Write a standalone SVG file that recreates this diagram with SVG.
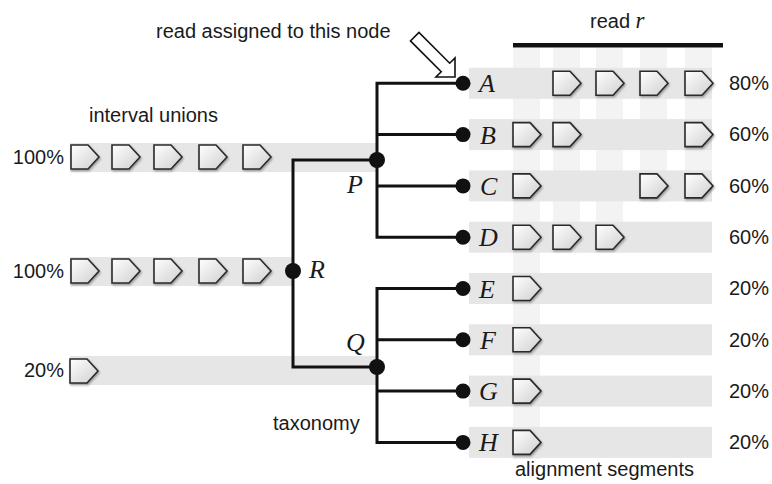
<svg xmlns="http://www.w3.org/2000/svg" xmlns:xlink="http://www.w3.org/1999/xlink" width="772" height="484" viewBox="0 0 772 484">
<defs>
<style>
.t{font-family:"Liberation Sans",Arial,sans-serif;font-size:20px;fill:#1a1a1a}
.n{font-family:"Liberation Serif","Times New Roman",serif;font-style:italic;font-size:26px;fill:#1a1a1a}
.band{fill:#e6e6e6}
.strip{fill:#f3f3f3}
.edge{fill:none;stroke:#111;stroke-width:3;stroke-linejoin:miter}
.dot{fill:#111}
</style>
<linearGradient id="pg" x1="0" y1="0" x2="1" y2="1">
<stop offset="0" stop-color="#ffffff"/>
<stop offset="1" stop-color="#cfcfcf"/>
</linearGradient>
<filter id="sh" x="-20%" y="-20%" width="150%" height="150%">
<feDropShadow dx="1" dy="1.5" stdDeviation="1" flood-color="#000" flood-opacity="0.35"/>
</filter>
<path id="pent" d="M0,0 H17 L28,12 L17,24 H0 Z" fill="url(#pg)" stroke="#2a2a2a" stroke-width="1.6" stroke-linejoin="miter" filter="url(#sh)"/>
</defs>
<rect width="772" height="484" fill="#fff"/>

<g id="background">
<rect class="strip" x="513" y="48" width="27" height="411"/>
<rect class="strip" x="553" y="48" width="27" height="174"/>
<rect class="strip" x="596" y="48" width="27" height="174"/>
<rect class="strip" x="640" y="48" width="27" height="154"/>
<rect class="strip" x="685" y="48" width="27" height="154"/>
<rect class="band" x="469" y="67.8" width="243" height="31"/>
<rect class="band" x="469" y="119.1" width="243" height="31"/>
<rect class="band" x="469" y="170.4" width="243" height="31"/>
<rect class="band" x="469" y="221.7" width="243" height="31"/>
<rect class="band" x="469" y="273" width="243" height="31"/>
<rect class="band" x="469" y="324.3" width="243" height="31"/>
<rect class="band" x="469" y="375.6" width="243" height="31"/>
<rect class="band" x="469" y="426.9" width="243" height="31"/>
<rect class="band" x="70" y="143" width="307" height="29"/>
<rect class="band" x="70" y="257" width="223" height="29"/>
<rect class="band" x="70" y="356" width="307" height="29"/>
<rect x="513" y="43" width="210" height="4.5" fill="#111"/>
</g>

<g id="connectors">
<polyline class="edge" points="377,160 293,160 293,367 377,367"/>
<polyline class="edge" points="463,83.3 377,83.3 377,237.2 463,237.2"/>
<line class="edge" x1="377" y1="134.6" x2="463" y2="134.6"/>
<line class="edge" x1="377" y1="185.9" x2="463" y2="185.9"/>
<polyline class="edge" points="463,288.5 377,288.5 377,442.4 463,442.4"/>
<line class="edge" x1="377" y1="339.8" x2="463" y2="339.8"/>
<line class="edge" x1="377" y1="391.1" x2="463" y2="391.1"/>
<polygon points="0,0 -13.5,-13.5 -13.5,-6 -57,-6 -57,6 -13.5,6 -13.5,13.5" transform="translate(455,77) rotate(45)" fill="#fff" stroke="#111" stroke-width="1.6" stroke-linejoin="miter"/>
</g>

<g id="node-R">
<circle class="dot" cx="293" cy="271" r="8"/>
<text class="n" x="309" y="278">R</text>
<use xlink:href="#pent" x="71" y="259"/>
<use xlink:href="#pent" x="112" y="259"/>
<use xlink:href="#pent" x="154" y="259"/>
<use xlink:href="#pent" x="199" y="259"/>
<use xlink:href="#pent" x="243" y="259"/>
<text class="t" x="64" y="278" text-anchor="end">100%</text>
</g>
<g id="node-P">
<circle class="dot" cx="377" cy="160" r="8"/>
<text class="n" x="347" y="193">P</text>
<use xlink:href="#pent" x="71" y="145"/>
<use xlink:href="#pent" x="112" y="145"/>
<use xlink:href="#pent" x="154" y="145"/>
<use xlink:href="#pent" x="199" y="145"/>
<use xlink:href="#pent" x="243" y="145"/>
<text class="t" x="64" y="164" text-anchor="end">100%</text>
</g>
<g id="node-Q">
<circle class="dot" cx="377" cy="367" r="8"/>
<text class="n" x="346" y="351">Q</text>
<use xlink:href="#pent" x="70" y="359"/>
<text class="t" x="64" y="377" text-anchor="end">20%</text>
</g>

<g id="node-A">
<circle class="dot" cx="463" cy="83.3" r="7.5"/>
<text class="n" x="479" y="92">A</text>
<use xlink:href="#pent" x="553" y="71.3"/>
<use xlink:href="#pent" x="596" y="71.3"/>
<use xlink:href="#pent" x="640" y="71.3"/>
<use xlink:href="#pent" x="685" y="71.3"/>
<text class="t" x="729" y="90">80%</text>
</g>
<g id="node-B">
<circle class="dot" cx="463" cy="134.6" r="7.5"/>
<text class="n" x="480" y="143.5">B</text>
<use xlink:href="#pent" x="513" y="122.6"/>
<use xlink:href="#pent" x="553" y="122.6"/>
<use xlink:href="#pent" x="685" y="122.6"/>
<text class="t" x="729" y="141">60%</text>
</g>
<g id="node-C">
<circle class="dot" cx="463" cy="185.9" r="7.5"/>
<text class="n" x="480" y="195">C</text>
<use xlink:href="#pent" x="513" y="173.9"/>
<use xlink:href="#pent" x="640" y="173.9"/>
<use xlink:href="#pent" x="685" y="173.9"/>
<text class="t" x="729" y="192.5">60%</text>
</g>
<g id="node-D">
<circle class="dot" cx="463" cy="237.2" r="7.5"/>
<text class="n" x="479" y="246">D</text>
<use xlink:href="#pent" x="513" y="225.2"/>
<use xlink:href="#pent" x="553" y="225.2"/>
<use xlink:href="#pent" x="596" y="225.2"/>
<text class="t" x="729" y="244">60%</text>
</g>
<g id="node-E">
<circle class="dot" cx="463" cy="288.5" r="7.5"/>
<text class="n" x="479" y="297.5">E</text>
<use xlink:href="#pent" x="513" y="276.5"/>
<text class="t" x="729" y="295">20%</text>
</g>
<g id="node-F">
<circle class="dot" cx="463" cy="339.8" r="7.5"/>
<text class="n" x="480" y="348.5">F</text>
<use xlink:href="#pent" x="513" y="327.8"/>
<text class="t" x="729" y="346.5">20%</text>
</g>
<g id="node-G">
<circle class="dot" cx="463" cy="391.1" r="7.5"/>
<text class="n" x="479" y="400">G</text>
<use xlink:href="#pent" x="513" y="379.1"/>
<text class="t" x="729" y="398">20%</text>
</g>
<g id="node-H">
<circle class="dot" cx="463" cy="442.4" r="7.5"/>
<text class="n" x="479" y="451">H</text>
<use xlink:href="#pent" x="513" y="430.4"/>
<text class="t" x="729" y="449">20%</text>
</g>

<g id="labels">
<text class="t" x="156" y="38">read assigned to this node</text>
<text class="t" x="590" y="28">read <tspan class="n" style="font-size:23px">r</tspan></text>
<text class="t" x="89" y="122">interval unions</text>
<text class="t" x="273" y="430">taxonomy</text>
<text class="t" x="515" y="476">alignment segments</text>
</g>
</svg>
